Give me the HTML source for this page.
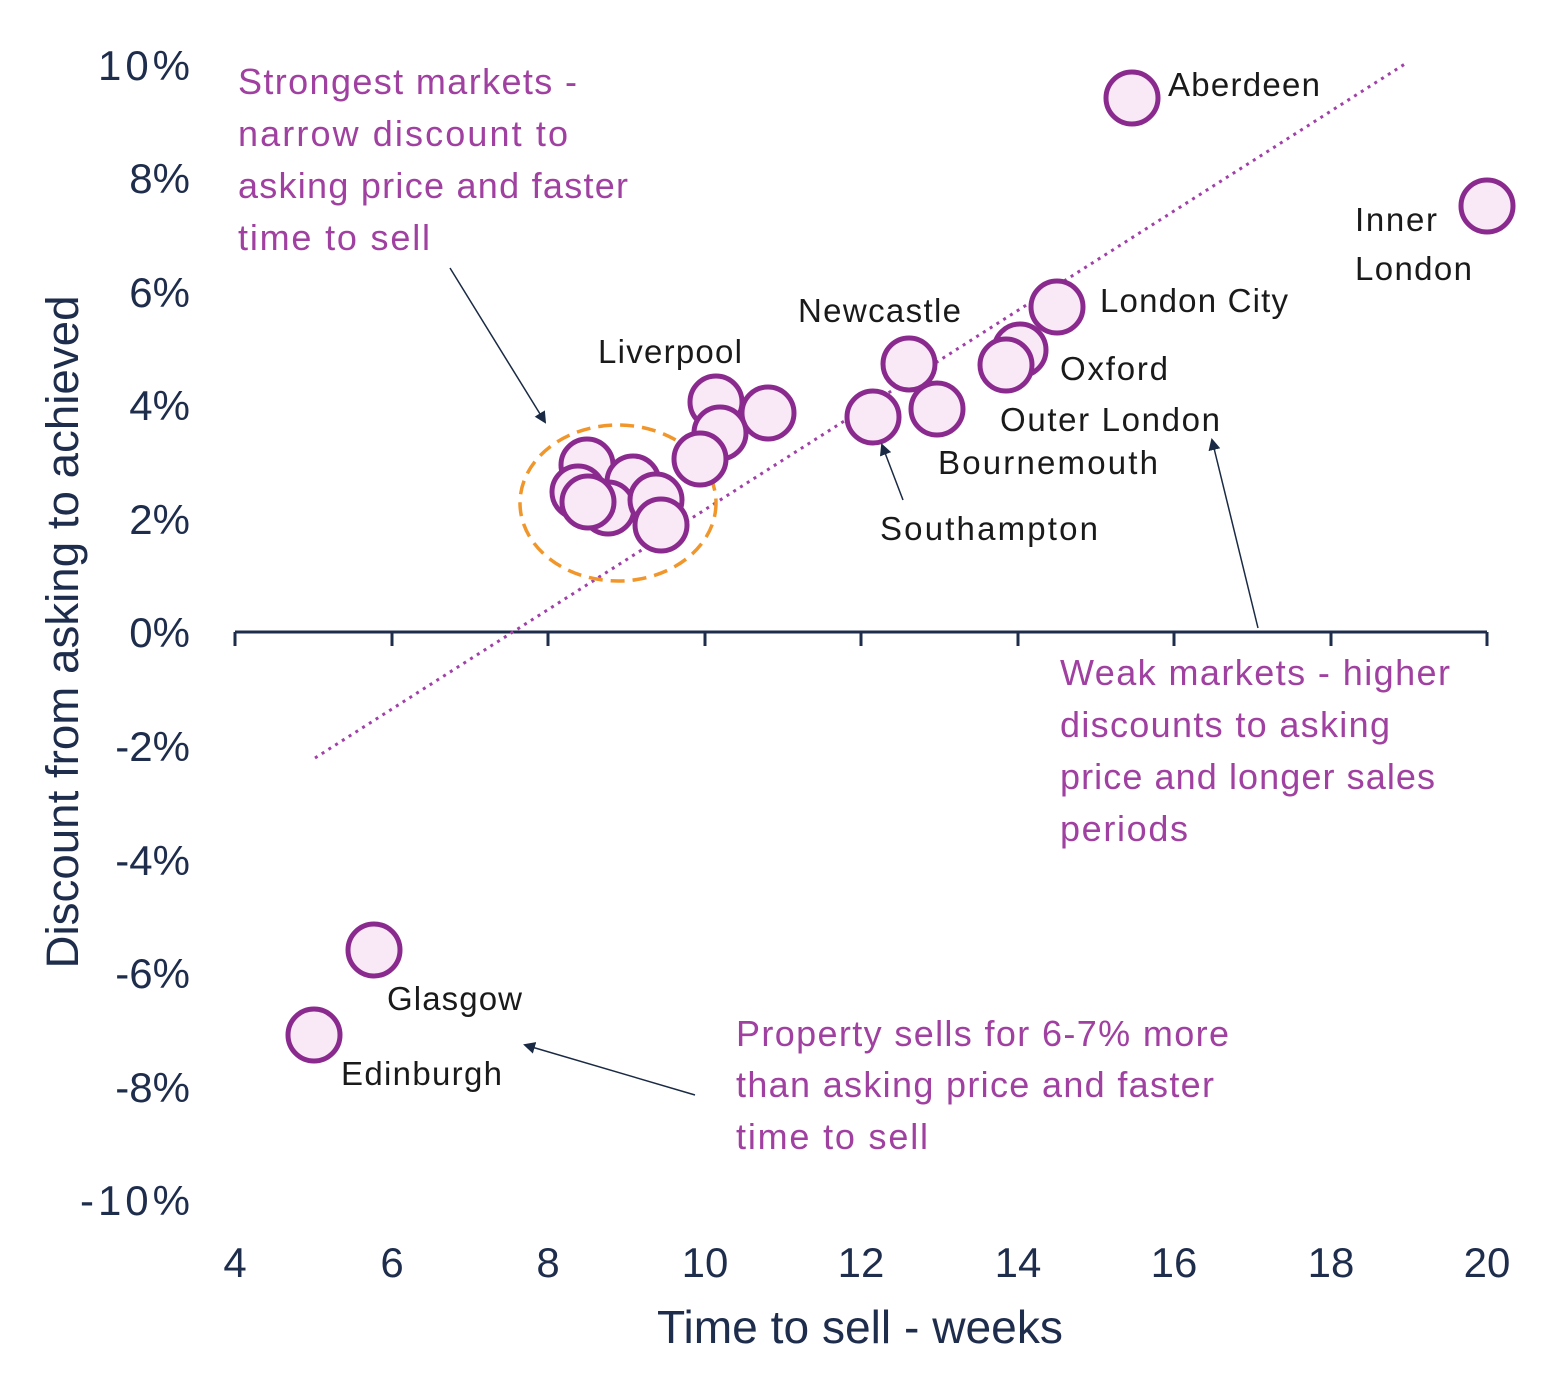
<!DOCTYPE html>
<html><head><meta charset="utf-8"><style>
body{margin:0;background:#fff}
svg text{font-family:"Liberation Sans",sans-serif}
</style></head><body>
<svg width="1562" height="1376" viewBox="0 0 1562 1376" xmlns="http://www.w3.org/2000/svg">
<defs><marker id="ar" markerWidth="12" markerHeight="12" refX="10" refY="6" orient="auto" markerUnits="userSpaceOnUse"><path d="M0,0 L12,6 L0,12 z" fill="#1a2a44"/></marker></defs>
<g fill="#1f2d4d" font-size="42" text-anchor="end" lengthAdjust="spacingAndGlyphs">
<text x="190" y="80" textLength="92">10%</text><text x="190" y="193">8%</text><text x="190" y="307">6%</text><text x="190" y="420">4%</text><text x="190" y="534">2%</text><text x="190" y="647">0%</text><text x="190" y="761">-2%</text><text x="190" y="875">-4%</text><text x="190" y="988">-6%</text><text x="190" y="1102">-8%</text><text x="190" y="1215" textLength="110">-10%</text>
</g>
<g fill="#1f2d4d" font-size="42" text-anchor="middle">
<text x="235" y="1277">4</text><text x="392" y="1277">6</text><text x="548" y="1277">8</text><text x="705" y="1277">10</text><text x="861" y="1277">12</text><text x="1018" y="1277">14</text><text x="1174" y="1277">16</text><text x="1331" y="1277">18</text><text x="1487" y="1277">20</text>
<text x="860" y="1343" font-size="46" textLength="406" lengthAdjust="spacingAndGlyphs">Time to sell - weeks</text>
<text transform="translate(78,632) rotate(-90)" font-size="45" textLength="673" lengthAdjust="spacingAndGlyphs">Discount from asking to achieved</text>
</g>
<g stroke="#1f2d4d" stroke-width="3">
<line x1="235" y1="632" x2="1487" y2="632"/>
<line x1="235" y1="632" x2="235" y2="646"/><line x1="392" y1="632" x2="392" y2="646"/><line x1="548" y1="632" x2="548" y2="646"/><line x1="705" y1="632" x2="705" y2="646"/><line x1="861" y1="632" x2="861" y2="646"/><line x1="1018" y1="632" x2="1018" y2="646"/><line x1="1174" y1="632" x2="1174" y2="646"/><line x1="1331" y1="632" x2="1331" y2="646"/><line x1="1487" y1="632" x2="1487" y2="646"/>
</g>
<line x1="315" y1="758" x2="1408" y2="62" stroke="#a040a8" stroke-width="3" stroke-dasharray="3,5"/>
<ellipse cx="618" cy="503" rx="98" ry="78" fill="none" stroke="#f0962a" stroke-width="3.5" stroke-dasharray="14,8"/>
<g fill="#f9e9f6" stroke="#8a2a8e" stroke-width="5">
<circle cx="1132" cy="98" r="26"/><circle cx="1487" cy="206" r="26"/><circle cx="1057" cy="307" r="26"/><circle cx="1020" cy="350" r="26"/><circle cx="1006" cy="365" r="26"/><circle cx="909" cy="364" r="26"/><circle cx="937" cy="409" r="26"/><circle cx="873" cy="417" r="26"/>
<circle cx="716" cy="402" r="26"/><circle cx="768" cy="413" r="26"/><circle cx="720" cy="433" r="26"/><circle cx="700" cy="459" r="26"/>
<circle cx="587" cy="465" r="26"/><circle cx="633" cy="482" r="26"/><circle cx="578" cy="492" r="26"/><circle cx="608" cy="508" r="26"/><circle cx="588" cy="502" r="26"/><circle cx="656" cy="500" r="26"/><circle cx="661" cy="525" r="26"/>
<circle cx="374" cy="950" r="26"/><circle cx="314" cy="1035" r="26"/>
</g>
<g fill="#1a1a1a" font-size="33" lengthAdjust="spacingAndGlyphs">
<text x="1168" y="96" textLength="152">Aberdeen</text><text x="1355" y="231" textLength="82">Inner</text><text x="1355" y="280" textLength="117">London</text>
<text x="1100" y="312" textLength="188">London City</text><text x="1060" y="380" textLength="108">Oxford</text><text x="1000" y="431" textLength="220">Outer London</text>
<text x="938" y="474" textLength="220">Bournemouth</text><text x="880" y="540" textLength="218">Southampton</text><text x="798" y="322" textLength="163">Newcastle</text><text x="598" y="363" textLength="144">Liverpool</text>
<text x="387" y="1010" textLength="135">Glasgow</text><text x="341" y="1085" textLength="161">Edinburgh</text>
</g>
<g fill="#a040a0" font-size="36" lengthAdjust="spacingAndGlyphs">
<text x="238" y="94" textLength="339">Strongest markets -</text><text x="238" y="146" textLength="330">narrow discount to</text><text x="238" y="198" textLength="390">asking price and faster</text><text x="238" y="250" textLength="192">time to sell</text>
<text x="1060" y="685" textLength="390">Weak markets - higher</text><text x="1060" y="737" textLength="330">discounts to asking</text><text x="1060" y="789" textLength="375">price and longer sales</text><text x="1060" y="841" textLength="128">periods</text>
<text x="736" y="1046" textLength="493">Property sells for 6-7% more</text><text x="736" y="1097" textLength="478">than asking price and faster</text><text x="736" y="1149" textLength="192">time to sell</text>
</g>
<g stroke="#1a2a44" stroke-width="1.5" marker-end="url(#ar)">
<line x1="450" y1="268" x2="545" y2="422"/><line x1="903" y1="500" x2="882" y2="445"/><line x1="1258" y1="628" x2="1212" y2="440"/><line x1="695" y1="1095" x2="525" y2="1045"/>
</g>
</svg>
</body></html>
